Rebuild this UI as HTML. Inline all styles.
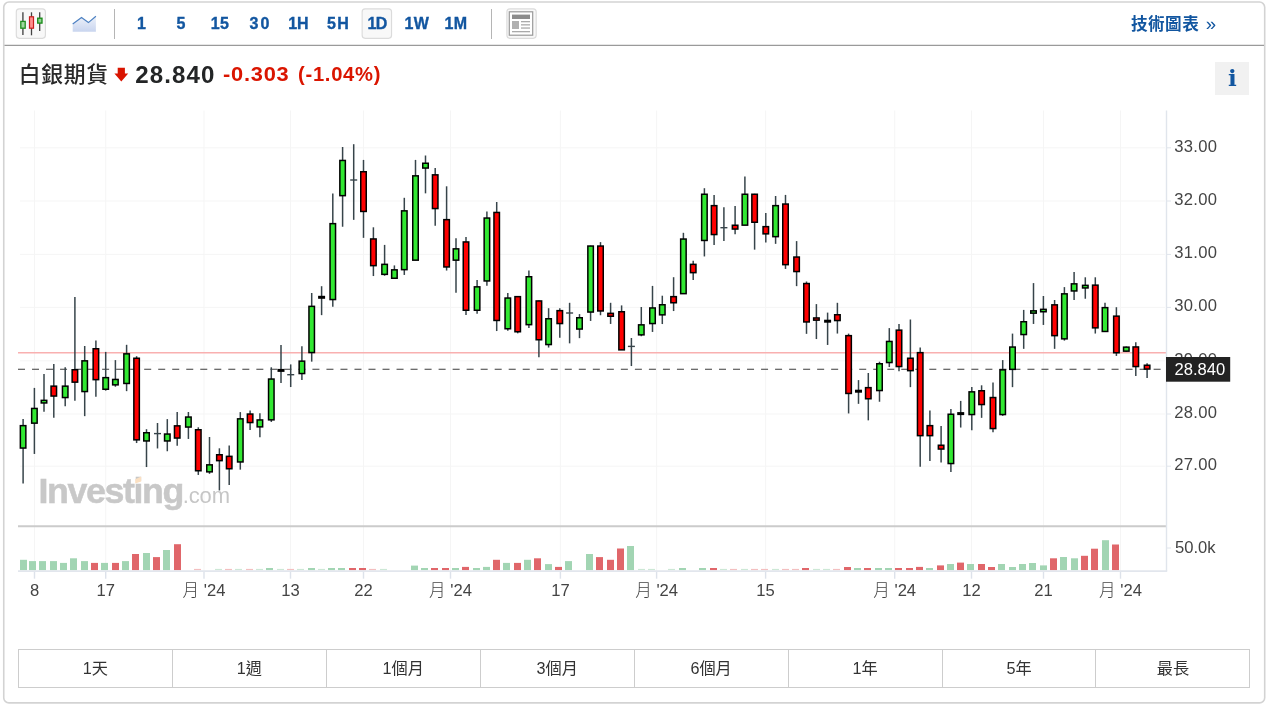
<!DOCTYPE html>
<html lang="zh-Hant">
<head>
<meta charset="utf-8">
<title>白銀期貨</title>
<style>
html,body{margin:0;padding:0;background:#fff;}
body{width:1269px;height:707px;position:relative;overflow:hidden;font-family:"Liberation Sans","Noto Sans CJK TC",sans-serif;color:#333;}
.box{position:absolute;left:2.8px;top:1.2px;width:1260.3px;height:700.1px;border:1.7px solid #d2d2d2;border-top:1.9px solid #dcdcdc;border-radius:6px;box-sizing:content-box;}
.tbline{position:absolute;left:4px;top:44.8px;width:1261px;height:1.2px;background:#9b9b9b;}
.chart{position:absolute;left:0;top:0;}
.ibtn{position:absolute;box-sizing:border-box;width:30.5px;height:30.5px;top:8.5px;border:1.2px solid #dadada;border-radius:2.8px;background:#f8f8f8;}
.sep{position:absolute;top:8.7px;width:1.2px;height:30px;background:#b5b5b5;}
.tf{position:absolute;top:14.1px;height:20px;line-height:20px;font-size:16px;font-weight:bold;color:#1256a0;text-align:center;width:40px;letter-spacing:0.3px;-webkit-text-stroke:0.35px #1256a0;}
.title{position:absolute;left:18.7px;top:60.8px;font-size:21.8px;letter-spacing:0.75px;font-weight:500;line-height:28px;color:#2a2a2a;white-space:nowrap;}
.last{position:absolute;left:135.3px;top:60.6px;font-size:24.1px;line-height:28px;font-weight:bold;color:#232526;letter-spacing:1.1px;white-space:nowrap;}
.chg{position:absolute;top:60.1px;font-size:19.5px;line-height:28px;font-weight:bold;color:#da1500;white-space:nowrap;letter-spacing:0.7px;transform:scaleX(1.03);transform-origin:0 50%;}
.tech{position:absolute;left:1131px;top:12.2px;font-size:16.6px;line-height:24px;font-weight:bold;color:#1256a0;white-space:nowrap;letter-spacing:0.45px;}
.tech span{font-weight:normal;margin-left:6.5px;font-size:18.5px;position:relative;top:-0.5px;}
.info{position:absolute;left:1215px;top:61.7px;width:34px;height:33.2px;background:#f1f1f1;text-align:center;font-family:"DejaVu Serif","Liberation Serif",serif;font-weight:bold;font-size:22.6px;line-height:33.8px;color:#1256a0;}
.info span{display:inline-block;transform:scaleX(1.02);}
.ranges{position:absolute;left:17.8px;top:648.8px;width:1232.6px;height:39px;box-sizing:border-box;border:1.2px solid #cdcdcd;display:flex;}
.ranges div{flex:1 1 0;border-right:1.2px solid #cdcdcd;text-align:center;font-size:16.2px;line-height:37.4px;color:#333;}
.ranges div:last-child{border-right:none;}
</style>
</head>
<body>
<svg class="frame" style="position:absolute;left:0;top:0" width="1269" height="707" viewBox="0 0 1269 707">
  <rect x="3.75" y="2.05" width="1260.95" height="700.85" rx="5.2" ry="5.2" fill="#fff" stroke="#d3d3d3" stroke-width="1.6"/>
  <line x1="4.5" y1="45.3" x2="1264" y2="45.3" stroke="#9a9a9a" stroke-width="1.25"/>
  <rect x="16.3" y="8.85" width="29.1" height="29.5" rx="3" ry="3" fill="#f8f8f8" stroke="#dbdbdb" stroke-width="1.15"/>
  <rect x="362.15" y="8.85" width="29.4" height="29.5" rx="3" ry="3" fill="#f8f8f8" stroke="#dbdbdb" stroke-width="1.15"/>
  <rect x="506.9" y="8.85" width="29.3" height="29.5" rx="3" ry="3" fill="#f8f8f8" stroke="#dbdbdb" stroke-width="1.15"/>
</svg>

<svg style="position:absolute;left:0;top:0" width="120" height="46" viewBox="0 0 120 46">
  <defs><linearGradient id="ag" x1="0" y1="0" x2="0" y2="1"><stop offset="0" stop-color="#eef2fa"/><stop offset="1" stop-color="#c9d5ef"/></linearGradient></defs>
  <line x1="22.9" y1="12.3" x2="22.9" y2="35" stroke="#555" stroke-width="1.5"/>
  <rect x="20.8" y="21.4" width="4.4" height="6.8" fill="#9fd89f" stroke="#1f8f1f" stroke-width="1.3"/>
  <line x1="31.5" y1="12.3" x2="31.5" y2="35.3" stroke="#444" stroke-width="1.3"/>
  <rect x="29.5" y="16.8" width="4" height="11.4" fill="#ff8f8f" stroke="#c81e1e" stroke-width="1.2"/>
  <line x1="39.7" y1="12.3" x2="39.7" y2="31" stroke="#444" stroke-width="1.3"/>
  <rect x="37.7" y="18.2" width="4.3" height="4.9" fill="#8fd28f" stroke="#168a16" stroke-width="1.3"/>
  <path d="M72.7 23.9 L81.5 17.6 L88.4 22.6 L95.9 16.2 L95.9 31.7 L72.7 31.7 Z" fill="url(#ag)"/>
  <path d="M72.7 23.9 L81.5 17.6 L88.4 22.6 L95.9 16.2" fill="none" stroke="#4c80c2" stroke-width="1.2"/>
</svg>
<div class="sep" style="left:113.6px"></div>
<div class="tf" style="left:121.7px">1</div>
<div class="tf" style="left:161px">5</div>
<div class="tf" style="left:200px">15</div>
<div class="tf" style="left:240.5px;letter-spacing:2.2px">30</div>
<div class="tf" style="left:278.3px;letter-spacing:-0.3px">1H</div>
<div class="tf" style="left:318.5px;letter-spacing:1.3px">5H</div>
<div class="tf" style="left:357px;letter-spacing:-0.7px">1D</div>
<div class="tf" style="left:396.8px">1W</div>
<div class="tf" style="left:436px">1M</div>
<div class="sep" style="left:491px"></div>
<svg style="position:absolute;left:500px;top:0" width="50" height="46" viewBox="500 0 50 46">
  <rect x="509.3" y="11.8" width="23.4" height="23.4" fill="#fff" stroke="#999" stroke-width="1.2"/>
  <rect x="512" y="14.6" width="18" height="4.4" fill="#8c8c8c"/>
  <rect x="512" y="21" width="7" height="8" fill="#b0b0b0"/>
  <rect x="521" y="21" width="9" height="1.3" fill="#aaa"/>
  <rect x="521" y="24.2" width="9" height="1.3" fill="#aaa"/>
  <rect x="521" y="27.4" width="9" height="1.3" fill="#aaa"/>
  <rect x="512" y="31" width="18" height="1.3" fill="#aaa"/>
</svg>
<div class="tech">技術圖表<span>»</span></div>

<div class="title">白銀期貨</div>
<svg style="position:absolute;left:113px;top:66px" width="17" height="17" viewBox="113 66 17 17">
  <path d="M117.7 67.7 H124.9 V73.6 H128.2 L121.3 81.6 L114.4 73.6 H117.7 Z" fill="#d91400"/>
</svg>
<div class="last">28.840</div>
<div class="chg" style="left:223.4px;transform:scaleX(1.118)">-0.303</div>
<div class="chg" style="left:297.8px;transform:scaleX(1.035)">(-1.04%)</div>
<div class="info"><span>i</span></div>

<svg class="chart" width="1269" height="707" viewBox="0 0 1269 707">
<line x1="20" y1="147.8" x2="1165" y2="147.8" stroke="#f5f5f5" stroke-width="1"/>
<line x1="1166.5" y1="147.8" x2="1171" y2="147.8" stroke="#e0e5ec" stroke-width="1"/>
<line x1="20" y1="201" x2="1165" y2="201" stroke="#f5f5f5" stroke-width="1"/>
<line x1="1166.5" y1="201" x2="1171" y2="201" stroke="#e0e5ec" stroke-width="1"/>
<line x1="20" y1="254.4" x2="1165" y2="254.4" stroke="#f5f5f5" stroke-width="1"/>
<line x1="1166.5" y1="254.4" x2="1171" y2="254.4" stroke="#e0e5ec" stroke-width="1"/>
<line x1="20" y1="307.4" x2="1165" y2="307.4" stroke="#f5f5f5" stroke-width="1"/>
<line x1="1166.5" y1="307.4" x2="1171" y2="307.4" stroke="#e0e5ec" stroke-width="1"/>
<line x1="20" y1="360.8" x2="1165" y2="360.8" stroke="#f5f5f5" stroke-width="1"/>
<line x1="1166.5" y1="360.8" x2="1171" y2="360.8" stroke="#e0e5ec" stroke-width="1"/>
<line x1="20" y1="414" x2="1165" y2="414" stroke="#f5f5f5" stroke-width="1"/>
<line x1="1166.5" y1="414" x2="1171" y2="414" stroke="#e0e5ec" stroke-width="1"/>
<line x1="20" y1="466.2" x2="1165" y2="466.2" stroke="#f5f5f5" stroke-width="1"/>
<line x1="1166.5" y1="466.2" x2="1171" y2="466.2" stroke="#e0e5ec" stroke-width="1"/>
<line x1="34.5" y1="110.5" x2="34.5" y2="571.1" stroke="#f5f5f5" stroke-width="1"/>
<line x1="34.5" y1="571.1" x2="34.5" y2="578.7" stroke="#dde2ea" stroke-width="1.4"/>
<line x1="105.7" y1="110.5" x2="105.7" y2="571.1" stroke="#f5f5f5" stroke-width="1"/>
<line x1="105.7" y1="571.1" x2="105.7" y2="578.7" stroke="#dde2ea" stroke-width="1.4"/>
<line x1="204" y1="110.5" x2="204" y2="571.1" stroke="#f5f5f5" stroke-width="1"/>
<line x1="204" y1="571.1" x2="204" y2="578.7" stroke="#dde2ea" stroke-width="1.4"/>
<line x1="290.5" y1="110.5" x2="290.5" y2="571.1" stroke="#f5f5f5" stroke-width="1"/>
<line x1="290.5" y1="571.1" x2="290.5" y2="578.7" stroke="#dde2ea" stroke-width="1.4"/>
<line x1="363.5" y1="110.5" x2="363.5" y2="571.1" stroke="#f5f5f5" stroke-width="1"/>
<line x1="363.5" y1="571.1" x2="363.5" y2="578.7" stroke="#dde2ea" stroke-width="1.4"/>
<line x1="450.5" y1="110.5" x2="450.5" y2="571.1" stroke="#f5f5f5" stroke-width="1"/>
<line x1="450.5" y1="571.1" x2="450.5" y2="578.7" stroke="#dde2ea" stroke-width="1.4"/>
<line x1="560.4" y1="110.5" x2="560.4" y2="571.1" stroke="#f5f5f5" stroke-width="1"/>
<line x1="560.4" y1="571.1" x2="560.4" y2="578.7" stroke="#dde2ea" stroke-width="1.4"/>
<line x1="656.6" y1="110.5" x2="656.6" y2="571.1" stroke="#f5f5f5" stroke-width="1"/>
<line x1="656.6" y1="571.1" x2="656.6" y2="578.7" stroke="#dde2ea" stroke-width="1.4"/>
<line x1="765.6" y1="110.5" x2="765.6" y2="571.1" stroke="#f5f5f5" stroke-width="1"/>
<line x1="765.6" y1="571.1" x2="765.6" y2="578.7" stroke="#dde2ea" stroke-width="1.4"/>
<line x1="894.7" y1="110.5" x2="894.7" y2="571.1" stroke="#f5f5f5" stroke-width="1"/>
<line x1="894.7" y1="571.1" x2="894.7" y2="578.7" stroke="#dde2ea" stroke-width="1.4"/>
<line x1="971.5" y1="110.5" x2="971.5" y2="571.1" stroke="#f5f5f5" stroke-width="1"/>
<line x1="971.5" y1="571.1" x2="971.5" y2="578.7" stroke="#dde2ea" stroke-width="1.4"/>
<line x1="1043.5" y1="110.5" x2="1043.5" y2="571.1" stroke="#f5f5f5" stroke-width="1"/>
<line x1="1043.5" y1="571.1" x2="1043.5" y2="578.7" stroke="#dde2ea" stroke-width="1.4"/>
<line x1="1120.5" y1="110.5" x2="1120.5" y2="571.1" stroke="#f5f5f5" stroke-width="1"/>
<line x1="1120.5" y1="571.1" x2="1120.5" y2="578.7" stroke="#dde2ea" stroke-width="1.4"/>
<g font-family="'Liberation Sans', sans-serif">
<text x="38.4" y="503.1" font-size="35.8" font-weight="bold" fill="#c8c8c8" stroke="#c8c8c8" stroke-width="0.5" letter-spacing="-1.4">Investing</text>
<text x="182.8" y="503.1" font-size="22" fill="#c6c6c6" letter-spacing="-0.15">.com</text>
</g>
<path d="M135.2 479.2 L141.2 476.6 L141.2 481.4 L135.2 483.4 Z" fill="#fbe0c2"/>
<line x1="18" y1="352.75" x2="1166" y2="352.75" stroke="#f9b0b0" stroke-width="1.6"/>
<rect x="20" y="559.8" width="7" height="10.4" fill="#a2d5b3"/>
<rect x="29" y="561.1" width="7" height="9.1" fill="#a2d5b3"/>
<rect x="39" y="561.1" width="7" height="9.1" fill="#a2d5b3"/>
<rect x="50" y="561.1" width="7" height="9.1" fill="#a2d5b3"/>
<rect x="60" y="562.9" width="7" height="7.3" fill="#a2d5b3"/>
<rect x="70" y="558.3" width="7" height="11.9" fill="#a2d5b3"/>
<rect x="81" y="561.1" width="7" height="9.1" fill="#a2d5b3"/>
<rect x="91" y="562.9" width="7" height="7.3" fill="#e0666a"/>
<rect x="101" y="562.9" width="7" height="7.3" fill="#a2d5b3"/>
<rect x="112" y="562.9" width="7" height="7.3" fill="#e0666a"/>
<rect x="122" y="561.1" width="7" height="9.1" fill="#a2d5b3"/>
<rect x="132" y="554.0" width="7" height="16.2" fill="#e0666a"/>
<rect x="143" y="553.0" width="7" height="17.2" fill="#a2d5b3"/>
<rect x="153" y="557.1" width="7" height="13.1" fill="#e0666a"/>
<rect x="163" y="550.0" width="7" height="20.2" fill="#a2d5b3"/>
<rect x="174" y="544.2" width="7" height="26.0" fill="#e0666a"/>
<rect x="194" y="568.9" width="7" height="1.3" fill="#f3bfc0"/>
<rect x="215" y="568.9" width="7" height="1.3" fill="#cde8d6"/>
<rect x="225" y="568.9" width="7" height="1.3" fill="#f3bfc0"/>
<rect x="235" y="568.9" width="7" height="1.3" fill="#cde8d6"/>
<rect x="246" y="568.9" width="7" height="1.3" fill="#f3bfc0"/>
<rect x="256" y="568.9" width="7" height="1.3" fill="#cde8d6"/>
<rect x="266" y="568.0" width="7" height="2.2" fill="#a2d5b3"/>
<rect x="277" y="568.9" width="7" height="1.3" fill="#cde8d6"/>
<rect x="287" y="568.9" width="7" height="1.3" fill="#f3bfc0"/>
<rect x="297" y="568.9" width="7" height="1.3" fill="#cde8d6"/>
<rect x="308" y="568.0" width="7" height="2.2" fill="#a2d5b3"/>
<rect x="318" y="568.9" width="7" height="1.3" fill="#cde8d6"/>
<rect x="328" y="568.0" width="7" height="2.2" fill="#a2d5b3"/>
<rect x="338" y="568.0" width="7" height="2.2" fill="#a2d5b3"/>
<rect x="349" y="568.0" width="7" height="2.2" fill="#e0666a"/>
<rect x="359" y="568.0" width="7" height="2.2" fill="#e0666a"/>
<rect x="369" y="568.9" width="7" height="1.3" fill="#f3bfc0"/>
<rect x="380" y="568.9" width="7" height="1.3" fill="#cde8d6"/>
<rect x="411" y="565.6" width="7" height="4.6" fill="#a2d5b3"/>
<rect x="421" y="568.0" width="7" height="2.2" fill="#a2d5b3"/>
<rect x="431" y="568.0" width="7" height="2.2" fill="#e0666a"/>
<rect x="442" y="568.0" width="7" height="2.2" fill="#e0666a"/>
<rect x="452" y="568.0" width="7" height="2.2" fill="#a2d5b3"/>
<rect x="462" y="566.9" width="7" height="3.3" fill="#e0666a"/>
<rect x="473" y="568.0" width="7" height="2.2" fill="#a2d5b3"/>
<rect x="483" y="566.9" width="7" height="3.3" fill="#a2d5b3"/>
<rect x="493" y="559.8" width="7" height="10.4" fill="#e0666a"/>
<rect x="503" y="562.9" width="7" height="7.3" fill="#a2d5b3"/>
<rect x="514" y="562.9" width="7" height="7.3" fill="#e0666a"/>
<rect x="524" y="559.8" width="7" height="10.4" fill="#a2d5b3"/>
<rect x="534" y="558.3" width="7" height="11.9" fill="#e0666a"/>
<rect x="545" y="564.1" width="7" height="6.1" fill="#a2d5b3"/>
<rect x="555" y="566.9" width="7" height="3.3" fill="#e0666a"/>
<rect x="565" y="561.1" width="7" height="9.1" fill="#a2d5b3"/>
<rect x="586" y="554.0" width="7" height="16.2" fill="#a2d5b3"/>
<rect x="596" y="557.1" width="7" height="13.1" fill="#e0666a"/>
<rect x="607" y="559.8" width="7" height="10.4" fill="#e0666a"/>
<rect x="617" y="548.5" width="7" height="21.7" fill="#e0666a"/>
<rect x="627" y="546.0" width="7" height="24.2" fill="#a2d5b3"/>
<rect x="638" y="568.9" width="7" height="1.3" fill="#cde8d6"/>
<rect x="648" y="568.9" width="7" height="1.3" fill="#cde8d6"/>
<rect x="668" y="568.9" width="7" height="1.3" fill="#cde8d6"/>
<rect x="679" y="568.0" width="7" height="2.2" fill="#a2d5b3"/>
<rect x="699" y="568.0" width="7" height="2.2" fill="#a2d5b3"/>
<rect x="710" y="568.0" width="7" height="2.2" fill="#e0666a"/>
<rect x="720" y="568.9" width="7" height="1.3" fill="#cde8d6"/>
<rect x="730" y="568.9" width="7" height="1.3" fill="#f3bfc0"/>
<rect x="741" y="568.9" width="7" height="1.3" fill="#cde8d6"/>
<rect x="751" y="568.9" width="7" height="1.3" fill="#f3bfc0"/>
<rect x="761" y="568.9" width="7" height="1.3" fill="#f3bfc0"/>
<rect x="772" y="568.9" width="7" height="1.3" fill="#cde8d6"/>
<rect x="782" y="568.9" width="7" height="1.3" fill="#f3bfc0"/>
<rect x="792" y="568.9" width="7" height="1.3" fill="#f3bfc0"/>
<rect x="802" y="568.0" width="7" height="2.2" fill="#e0666a"/>
<rect x="813" y="568.9" width="7" height="1.3" fill="#cde8d6"/>
<rect x="823" y="568.9" width="7" height="1.3" fill="#cde8d6"/>
<rect x="833" y="568.9" width="7" height="1.3" fill="#f3bfc0"/>
<rect x="844" y="567.0" width="7" height="3.2" fill="#e0666a"/>
<rect x="854" y="568.0" width="7" height="2.2" fill="#a2d5b3"/>
<rect x="864" y="568.0" width="7" height="2.2" fill="#e0666a"/>
<rect x="875" y="568.0" width="7" height="2.2" fill="#a2d5b3"/>
<rect x="885" y="568.0" width="7" height="2.2" fill="#a2d5b3"/>
<rect x="895" y="568.0" width="7" height="2.2" fill="#e0666a"/>
<rect x="906" y="568.0" width="7" height="2.2" fill="#e0666a"/>
<rect x="916" y="566.9" width="7" height="3.3" fill="#e0666a"/>
<rect x="926" y="568.0" width="7" height="2.2" fill="#a2d5b3"/>
<rect x="937" y="565.4" width="7" height="4.8" fill="#e0666a"/>
<rect x="947" y="564.0" width="7" height="6.2" fill="#a2d5b3"/>
<rect x="957" y="562.6" width="7" height="7.6" fill="#e0666a"/>
<rect x="967" y="564.0" width="7" height="6.2" fill="#a2d5b3"/>
<rect x="978" y="564.0" width="7" height="6.2" fill="#e0666a"/>
<rect x="988" y="567.0" width="7" height="3.2" fill="#e0666a"/>
<rect x="998" y="564.0" width="7" height="6.2" fill="#a2d5b3"/>
<rect x="1009" y="567.0" width="7" height="3.2" fill="#a2d5b3"/>
<rect x="1019" y="564.0" width="7" height="6.2" fill="#a2d5b3"/>
<rect x="1029" y="563.0" width="7" height="7.2" fill="#a2d5b3"/>
<rect x="1040" y="565.4" width="7" height="4.8" fill="#a2d5b3"/>
<rect x="1050" y="558.3" width="7" height="11.9" fill="#e0666a"/>
<rect x="1060" y="557.0" width="7" height="13.2" fill="#a2d5b3"/>
<rect x="1071" y="558.3" width="7" height="11.9" fill="#a2d5b3"/>
<rect x="1081" y="555.8" width="7" height="14.4" fill="#e0666a"/>
<rect x="1091" y="548.7" width="7" height="21.5" fill="#e0666a"/>
<rect x="1102" y="540.2" width="7" height="30.0" fill="#a2d5b3"/>
<rect x="1112" y="544.5" width="7" height="25.7" fill="#e0666a"/>
<line x1="18" y1="369.2" x2="1162" y2="369.2" stroke="#3c3c3c" stroke-width="1.15" stroke-dasharray="7.01 7.01"/>
<line x1="23.1" y1="419.1" x2="23.1" y2="483.55" stroke="#37444a" stroke-width="1.5"/>
<rect x="20.35" y="425.65" width="5.5" height="22.40" fill="#32e832" stroke="#000" stroke-width="1.5"/>
<line x1="34.4" y1="387.9" x2="34.4" y2="453.95000000000005" stroke="#37444a" stroke-width="1.5"/>
<rect x="31.65" y="408.45" width="5.5" height="14.70" fill="#32e832" stroke="#000" stroke-width="1.5"/>
<line x1="44.0" y1="374.0" x2="44.0" y2="411.85" stroke="#37444a" stroke-width="1.5"/>
<rect x="41.25" y="400.35" width="5.5" height="2.60" fill="#32e832" stroke="#000" stroke-width="1.5"/>
<line x1="53.8" y1="364.1" x2="53.8" y2="417.75" stroke="#37444a" stroke-width="1.5"/>
<rect x="51.05" y="386.15" width="5.5" height="9.90" fill="#ff0000" stroke="#000" stroke-width="1.5"/>
<line x1="65.2" y1="367.2" x2="65.2" y2="406.35" stroke="#37444a" stroke-width="1.5"/>
<rect x="62.45" y="386.15" width="5.5" height="11.40" fill="#32e832" stroke="#000" stroke-width="1.5"/>
<line x1="74.9" y1="297.1" x2="74.9" y2="400.85" stroke="#37444a" stroke-width="1.5"/>
<rect x="72.15" y="369.75" width="5.5" height="12.40" fill="#ff0000" stroke="#000" stroke-width="1.5"/>
<line x1="84.7" y1="346.0" x2="84.7" y2="416.15000000000003" stroke="#37444a" stroke-width="1.5"/>
<rect x="81.95" y="360.85" width="5.5" height="30.70" fill="#32e832" stroke="#000" stroke-width="1.5"/>
<line x1="95.9" y1="340.4" x2="95.9" y2="396.85" stroke="#37444a" stroke-width="1.5"/>
<rect x="93.15" y="348.75" width="5.5" height="30.90" fill="#ff0000" stroke="#000" stroke-width="1.5"/>
<line x1="105.7" y1="351.9" x2="105.7" y2="390.65000000000003" stroke="#37444a" stroke-width="1.5"/>
<rect x="102.95" y="377.65" width="5.5" height="11.60" fill="#32e832" stroke="#000" stroke-width="1.5"/>
<line x1="115.4" y1="360.1" x2="115.4" y2="386.75" stroke="#37444a" stroke-width="1.5"/>
<rect x="112.65" y="379.45" width="5.5" height="5.40" fill="#32e832" stroke="#000" stroke-width="1.5"/>
<line x1="126.6" y1="344.8" x2="126.6" y2="391.15000000000003" stroke="#37444a" stroke-width="1.5"/>
<rect x="123.85" y="353.85" width="5.5" height="29.60" fill="#32e832" stroke="#000" stroke-width="1.5"/>
<line x1="136.6" y1="356.2" x2="136.6" y2="443.05" stroke="#37444a" stroke-width="1.5"/>
<rect x="133.85" y="358.25" width="5.5" height="81.60" fill="#ff0000" stroke="#000" stroke-width="1.5"/>
<line x1="146.5" y1="429.2" x2="146.5" y2="467.05" stroke="#37444a" stroke-width="1.5"/>
<rect x="143.75" y="432.75" width="5.5" height="8.20" fill="#32e832" stroke="#000" stroke-width="1.5"/>
<line x1="157.5" y1="423.0" x2="157.5" y2="448.45000000000005" stroke="#37444a" stroke-width="1.5"/>
<line x1="154.0" y1="433.6" x2="161.0" y2="433.6" stroke="#37444a" stroke-width="1.4"/>
<line x1="167.3" y1="419.1" x2="167.3" y2="451.25" stroke="#37444a" stroke-width="1.5"/>
<rect x="164.55" y="434.05" width="5.5" height="6.90" fill="#32e832" stroke="#000" stroke-width="1.5"/>
<line x1="177.2" y1="412.0" x2="177.2" y2="445.75" stroke="#37444a" stroke-width="1.5"/>
<rect x="174.45" y="425.85" width="5.5" height="12.20" fill="#ff0000" stroke="#000" stroke-width="1.5"/>
<line x1="188.4" y1="412.0" x2="188.4" y2="438.95000000000005" stroke="#37444a" stroke-width="1.5"/>
<rect x="185.65" y="417.05" width="5.5" height="10.00" fill="#32e832" stroke="#000" stroke-width="1.5"/>
<line x1="198.3" y1="427.3" x2="198.3" y2="474.95000000000005" stroke="#37444a" stroke-width="1.5"/>
<rect x="195.55" y="429.75" width="5.5" height="41.00" fill="#ff0000" stroke="#000" stroke-width="1.5"/>
<line x1="209.5" y1="437.0" x2="209.5" y2="473.85" stroke="#37444a" stroke-width="1.5"/>
<rect x="206.75" y="464.85" width="5.5" height="7.00" fill="#32e832" stroke="#000" stroke-width="1.5"/>
<line x1="219.4" y1="448.3" x2="219.4" y2="490.45000000000005" stroke="#37444a" stroke-width="1.5"/>
<rect x="216.65" y="454.75" width="5.5" height="5.90" fill="#ff0000" stroke="#000" stroke-width="1.5"/>
<line x1="229.2" y1="445.6" x2="229.2" y2="484.95000000000005" stroke="#37444a" stroke-width="1.5"/>
<rect x="226.45" y="456.35" width="5.5" height="12.40" fill="#ff0000" stroke="#000" stroke-width="1.5"/>
<line x1="240.3" y1="412.1" x2="240.3" y2="469.65000000000003" stroke="#37444a" stroke-width="1.5"/>
<rect x="237.55" y="418.85" width="5.5" height="43.10" fill="#32e832" stroke="#000" stroke-width="1.5"/>
<line x1="250.1" y1="410.5" x2="250.1" y2="430.05" stroke="#37444a" stroke-width="1.5"/>
<rect x="247.35" y="414.05" width="5.5" height="8.50" fill="#ff0000" stroke="#000" stroke-width="1.5"/>
<line x1="259.9" y1="413.2" x2="259.9" y2="437.15000000000003" stroke="#37444a" stroke-width="1.5"/>
<rect x="257.15" y="419.95" width="5.5" height="6.90" fill="#32e832" stroke="#000" stroke-width="1.5"/>
<line x1="271.3" y1="367.3" x2="271.3" y2="421.95000000000005" stroke="#37444a" stroke-width="1.5"/>
<rect x="268.55" y="379.05" width="5.5" height="40.80" fill="#32e832" stroke="#000" stroke-width="1.5"/>
<line x1="281.0" y1="344.9" x2="281.0" y2="382.95000000000005" stroke="#37444a" stroke-width="1.5"/>
<line x1="277.5" y1="370.40000000000003" x2="284.5" y2="370.40000000000003" stroke="#000" stroke-width="3"/>
<line x1="290.7" y1="364.4" x2="290.7" y2="387.05" stroke="#37444a" stroke-width="1.5"/>
<line x1="287.2" y1="374.7" x2="294.2" y2="374.7" stroke="#37444a" stroke-width="1.4"/>
<line x1="301.9" y1="346.3" x2="301.9" y2="379.95000000000005" stroke="#37444a" stroke-width="1.5"/>
<rect x="299.15" y="361.15" width="5.5" height="12.40" fill="#32e832" stroke="#000" stroke-width="1.5"/>
<line x1="311.7" y1="293.0" x2="311.7" y2="361.65000000000003" stroke="#37444a" stroke-width="1.5"/>
<rect x="308.95" y="306.35" width="5.5" height="46.20" fill="#32e832" stroke="#000" stroke-width="1.5"/>
<line x1="321.6" y1="286.2" x2="321.6" y2="315.15000000000003" stroke="#37444a" stroke-width="1.5"/>
<line x1="318.1" y1="297.3" x2="325.1" y2="297.3" stroke="#000" stroke-width="3"/>
<line x1="332.8" y1="193.4" x2="332.8" y2="306.75" stroke="#37444a" stroke-width="1.5"/>
<rect x="330.05" y="223.65" width="5.5" height="75.90" fill="#32e832" stroke="#000" stroke-width="1.5"/>
<line x1="342.6" y1="147.0" x2="342.6" y2="226.75" stroke="#37444a" stroke-width="1.5"/>
<rect x="339.85" y="160.45" width="5.5" height="35.20" fill="#32e832" stroke="#000" stroke-width="1.5"/>
<line x1="353.7" y1="144.2" x2="353.7" y2="219.85" stroke="#37444a" stroke-width="1.5"/>
<line x1="350.2" y1="180.0" x2="357.2" y2="180.0" stroke="#37444a" stroke-width="1.4"/>
<line x1="363.5" y1="159.9" x2="363.5" y2="237.85" stroke="#37444a" stroke-width="1.5"/>
<rect x="360.75" y="171.75" width="5.5" height="39.70" fill="#ff0000" stroke="#000" stroke-width="1.5"/>
<line x1="373.4" y1="227.3" x2="373.4" y2="276.05" stroke="#37444a" stroke-width="1.5"/>
<rect x="370.65" y="238.95" width="5.5" height="26.70" fill="#ff0000" stroke="#000" stroke-width="1.5"/>
<line x1="384.6" y1="244.9" x2="384.6" y2="275.75" stroke="#37444a" stroke-width="1.5"/>
<rect x="381.85" y="264.35" width="5.5" height="10.00" fill="#32e832" stroke="#000" stroke-width="1.5"/>
<line x1="394.4" y1="265.4" x2="394.4" y2="278.35" stroke="#37444a" stroke-width="1.5"/>
<rect x="391.65" y="269.85" width="5.5" height="8.40" fill="#32e832" stroke="#000" stroke-width="1.5"/>
<line x1="404.3" y1="197.8" x2="404.3" y2="274.95000000000005" stroke="#37444a" stroke-width="1.5"/>
<rect x="401.55" y="210.85" width="5.5" height="58.80" fill="#32e832" stroke="#000" stroke-width="1.5"/>
<line x1="415.5" y1="159.9" x2="415.5" y2="260.25" stroke="#37444a" stroke-width="1.5"/>
<rect x="412.75" y="175.85" width="5.5" height="84.30" fill="#32e832" stroke="#000" stroke-width="1.5"/>
<line x1="425.5" y1="155.5" x2="425.5" y2="193.35" stroke="#37444a" stroke-width="1.5"/>
<rect x="422.75" y="163.25" width="5.5" height="4.80" fill="#32e832" stroke="#000" stroke-width="1.5"/>
<line x1="435.2" y1="168.1" x2="435.2" y2="225.65" stroke="#37444a" stroke-width="1.5"/>
<rect x="432.45" y="174.85" width="5.5" height="33.70" fill="#ff0000" stroke="#000" stroke-width="1.5"/>
<line x1="446.6" y1="186.3" x2="446.6" y2="270.55" stroke="#37444a" stroke-width="1.5"/>
<rect x="443.85" y="219.65" width="5.5" height="47.30" fill="#ff0000" stroke="#000" stroke-width="1.5"/>
<line x1="456.0" y1="238.2" x2="456.0" y2="292.85" stroke="#37444a" stroke-width="1.5"/>
<rect x="453.25" y="248.85" width="5.5" height="11.30" fill="#32e832" stroke="#000" stroke-width="1.5"/>
<line x1="466.0" y1="237.1" x2="466.0" y2="314.95000000000005" stroke="#37444a" stroke-width="1.5"/>
<rect x="463.25" y="241.95" width="5.5" height="68.30" fill="#ff0000" stroke="#000" stroke-width="1.5"/>
<line x1="477.1" y1="280.1" x2="477.1" y2="313.85" stroke="#37444a" stroke-width="1.5"/>
<rect x="474.35" y="286.85" width="5.5" height="23.40" fill="#32e832" stroke="#000" stroke-width="1.5"/>
<line x1="486.9" y1="211.5" x2="486.9" y2="285.75" stroke="#37444a" stroke-width="1.5"/>
<rect x="484.15" y="218.05" width="5.5" height="62.90" fill="#32e832" stroke="#000" stroke-width="1.5"/>
<line x1="496.7" y1="202.0" x2="496.7" y2="331.05" stroke="#37444a" stroke-width="1.5"/>
<rect x="493.95" y="212.45" width="5.5" height="108.00" fill="#ff0000" stroke="#000" stroke-width="1.5"/>
<line x1="507.8" y1="293.0" x2="507.8" y2="330.75" stroke="#37444a" stroke-width="1.5"/>
<rect x="505.05" y="298.05" width="5.5" height="30.70" fill="#32e832" stroke="#000" stroke-width="1.5"/>
<line x1="517.7" y1="296.2" x2="517.7" y2="333.35" stroke="#37444a" stroke-width="1.5"/>
<rect x="514.95" y="296.65" width="5.5" height="35.10" fill="#ff0000" stroke="#000" stroke-width="1.5"/>
<line x1="528.9" y1="270.5" x2="528.9" y2="328.05" stroke="#37444a" stroke-width="1.5"/>
<rect x="526.15" y="276.75" width="5.5" height="47.90" fill="#32e832" stroke="#000" stroke-width="1.5"/>
<line x1="538.9" y1="300.5" x2="538.9" y2="357.35" stroke="#37444a" stroke-width="1.5"/>
<rect x="536.15" y="300.95" width="5.5" height="38.80" fill="#ff0000" stroke="#000" stroke-width="1.5"/>
<line x1="548.6" y1="308.2" x2="548.6" y2="347.55" stroke="#37444a" stroke-width="1.5"/>
<rect x="545.85" y="318.75" width="5.5" height="25.80" fill="#32e832" stroke="#000" stroke-width="1.5"/>
<line x1="559.8" y1="308.3" x2="559.8" y2="337.75" stroke="#37444a" stroke-width="1.5"/>
<rect x="557.05" y="310.65" width="5.5" height="12.90" fill="#ff0000" stroke="#000" stroke-width="1.5"/>
<line x1="569.6" y1="302.8" x2="569.6" y2="343.35" stroke="#37444a" stroke-width="1.5"/>
<line x1="566.1" y1="313.0" x2="573.1" y2="313.0" stroke="#37444a" stroke-width="1.4"/>
<line x1="579.5" y1="314.1" x2="579.5" y2="338.15000000000003" stroke="#37444a" stroke-width="1.5"/>
<rect x="576.75" y="317.75" width="5.5" height="11.30" fill="#32e832" stroke="#000" stroke-width="1.5"/>
<line x1="590.6" y1="245.6" x2="590.6" y2="320.95000000000005" stroke="#37444a" stroke-width="1.5"/>
<rect x="587.85" y="246.05" width="5.5" height="66.00" fill="#32e832" stroke="#000" stroke-width="1.5"/>
<line x1="600.5" y1="242.1" x2="600.5" y2="315.25" stroke="#37444a" stroke-width="1.5"/>
<rect x="597.75" y="246.05" width="5.5" height="64.90" fill="#ff0000" stroke="#000" stroke-width="1.5"/>
<line x1="610.6" y1="302.8" x2="610.6" y2="323.95000000000005" stroke="#37444a" stroke-width="1.5"/>
<rect x="607.85" y="313.35" width="5.5" height="2.90" fill="#ff0000" stroke="#000" stroke-width="1.5"/>
<line x1="621.6" y1="305.4" x2="621.6" y2="349.95000000000005" stroke="#37444a" stroke-width="1.5"/>
<rect x="618.85" y="311.75" width="5.5" height="38.10" fill="#ff0000" stroke="#000" stroke-width="1.5"/>
<line x1="631.4" y1="338.0" x2="631.4" y2="366.05" stroke="#37444a" stroke-width="1.5"/>
<line x1="627.9" y1="346.4" x2="634.9" y2="346.4" stroke="#37444a" stroke-width="1.4"/>
<line x1="641.3" y1="307.0" x2="641.3" y2="336.25" stroke="#37444a" stroke-width="1.5"/>
<rect x="638.55" y="324.85" width="5.5" height="10.00" fill="#32e832" stroke="#000" stroke-width="1.5"/>
<line x1="652.5" y1="285.9" x2="652.5" y2="331.95000000000005" stroke="#37444a" stroke-width="1.5"/>
<rect x="649.75" y="307.95" width="5.5" height="15.60" fill="#32e832" stroke="#000" stroke-width="1.5"/>
<line x1="662.3" y1="295.7" x2="662.3" y2="324.05" stroke="#37444a" stroke-width="1.5"/>
<rect x="659.55" y="304.75" width="5.5" height="10.10" fill="#32e832" stroke="#000" stroke-width="1.5"/>
<line x1="673.6" y1="277.2" x2="673.6" y2="311.05" stroke="#37444a" stroke-width="1.5"/>
<rect x="670.85" y="296.65" width="5.5" height="6.10" fill="#ff0000" stroke="#000" stroke-width="1.5"/>
<line x1="683.4" y1="232.8" x2="683.4" y2="293.75" stroke="#37444a" stroke-width="1.5"/>
<rect x="680.65" y="239.05" width="5.5" height="54.60" fill="#32e832" stroke="#000" stroke-width="1.5"/>
<line x1="693.2" y1="260.7" x2="693.2" y2="279.95000000000005" stroke="#37444a" stroke-width="1.5"/>
<rect x="690.45" y="264.35" width="5.5" height="8.30" fill="#ff0000" stroke="#000" stroke-width="1.5"/>
<line x1="704.4" y1="188.2" x2="704.4" y2="256.45000000000005" stroke="#37444a" stroke-width="1.5"/>
<rect x="701.65" y="194.25" width="5.5" height="46.20" fill="#32e832" stroke="#000" stroke-width="1.5"/>
<line x1="714.1" y1="194.9" x2="714.1" y2="244.95" stroke="#37444a" stroke-width="1.5"/>
<rect x="711.35" y="205.65" width="5.5" height="28.90" fill="#ff0000" stroke="#000" stroke-width="1.5"/>
<line x1="723.9" y1="207.2" x2="723.9" y2="240.95" stroke="#37444a" stroke-width="1.5"/>
<line x1="720.4" y1="227.7" x2="727.4" y2="227.7" stroke="#37444a" stroke-width="1.4"/>
<line x1="735.1" y1="206.0" x2="735.1" y2="234.25" stroke="#37444a" stroke-width="1.5"/>
<rect x="732.35" y="225.25" width="5.5" height="3.80" fill="#ff0000" stroke="#000" stroke-width="1.5"/>
<line x1="744.9" y1="176.5" x2="744.9" y2="225.25" stroke="#37444a" stroke-width="1.5"/>
<rect x="742.15" y="194.25" width="5.5" height="30.90" fill="#32e832" stroke="#000" stroke-width="1.5"/>
<line x1="754.6" y1="193.8" x2="754.6" y2="249.65" stroke="#37444a" stroke-width="1.5"/>
<rect x="751.85" y="194.25" width="5.5" height="28.00" fill="#ff0000" stroke="#000" stroke-width="1.5"/>
<line x1="765.8" y1="213.1" x2="765.8" y2="242.54999999999998" stroke="#37444a" stroke-width="1.5"/>
<rect x="763.05" y="226.65" width="5.5" height="7.20" fill="#ff0000" stroke="#000" stroke-width="1.5"/>
<line x1="775.6" y1="196.0" x2="775.6" y2="243.85" stroke="#37444a" stroke-width="1.5"/>
<rect x="772.85" y="205.65" width="5.5" height="31.00" fill="#32e832" stroke="#000" stroke-width="1.5"/>
<line x1="785.5" y1="194.9" x2="785.5" y2="268.95000000000005" stroke="#37444a" stroke-width="1.5"/>
<rect x="782.75" y="204.05" width="5.5" height="60.60" fill="#ff0000" stroke="#000" stroke-width="1.5"/>
<line x1="796.6" y1="241.1" x2="796.6" y2="286.15000000000003" stroke="#37444a" stroke-width="1.5"/>
<rect x="793.85" y="257.05" width="5.5" height="14.50" fill="#ff0000" stroke="#000" stroke-width="1.5"/>
<line x1="806.5" y1="281.5" x2="806.5" y2="333.85" stroke="#37444a" stroke-width="1.5"/>
<rect x="803.75" y="283.55" width="5.5" height="38.40" fill="#ff0000" stroke="#000" stroke-width="1.5"/>
<line x1="816.4" y1="304.1" x2="816.4" y2="339.05" stroke="#37444a" stroke-width="1.5"/>
<rect x="813.65" y="317.95" width="5.5" height="2.20" fill="#ff0000" stroke="#000" stroke-width="1.5"/>
<line x1="827.6" y1="312.6" x2="827.6" y2="344.95000000000005" stroke="#37444a" stroke-width="1.5"/>
<line x1="824.1" y1="321.2" x2="831.1" y2="321.2" stroke="#000" stroke-width="3"/>
<line x1="837.4" y1="302.8" x2="837.4" y2="333.55" stroke="#37444a" stroke-width="1.5"/>
<rect x="834.65" y="314.75" width="5.5" height="5.80" fill="#ff0000" stroke="#000" stroke-width="1.5"/>
<line x1="848.6" y1="333.6" x2="848.6" y2="413.45000000000005" stroke="#37444a" stroke-width="1.5"/>
<rect x="845.85" y="335.65" width="5.5" height="57.80" fill="#ff0000" stroke="#000" stroke-width="1.5"/>
<line x1="858.5" y1="380.1" x2="858.5" y2="403.85" stroke="#37444a" stroke-width="1.5"/>
<line x1="855.0" y1="391.2" x2="862.0" y2="391.2" stroke="#000" stroke-width="3"/>
<line x1="868.3" y1="373.0" x2="868.3" y2="420.35" stroke="#37444a" stroke-width="1.5"/>
<rect x="865.55" y="387.65" width="5.5" height="11.10" fill="#ff0000" stroke="#000" stroke-width="1.5"/>
<line x1="879.5" y1="361.7" x2="879.5" y2="401.75" stroke="#37444a" stroke-width="1.5"/>
<rect x="876.75" y="363.75" width="5.5" height="26.80" fill="#32e832" stroke="#000" stroke-width="1.5"/>
<line x1="889.3" y1="328.1" x2="889.3" y2="367.05" stroke="#37444a" stroke-width="1.5"/>
<rect x="886.55" y="341.45" width="5.5" height="21.10" fill="#32e832" stroke="#000" stroke-width="1.5"/>
<line x1="899.0" y1="323.9" x2="899.0" y2="371.35" stroke="#37444a" stroke-width="1.5"/>
<rect x="896.25" y="330.15" width="5.5" height="36.40" fill="#ff0000" stroke="#000" stroke-width="1.5"/>
<line x1="910.4" y1="319.5" x2="910.4" y2="387.15000000000003" stroke="#37444a" stroke-width="1.5"/>
<rect x="907.65" y="358.25" width="5.5" height="12.40" fill="#ff0000" stroke="#000" stroke-width="1.5"/>
<line x1="920.2" y1="347.5" x2="920.2" y2="466.85" stroke="#37444a" stroke-width="1.5"/>
<rect x="917.45" y="352.65" width="5.5" height="83.00" fill="#ff0000" stroke="#000" stroke-width="1.5"/>
<line x1="929.9" y1="410.5" x2="929.9" y2="460.95000000000005" stroke="#37444a" stroke-width="1.5"/>
<rect x="927.15" y="425.65" width="5.5" height="10.00" fill="#ff0000" stroke="#000" stroke-width="1.5"/>
<line x1="941.1" y1="426.0" x2="941.1" y2="462.55" stroke="#37444a" stroke-width="1.5"/>
<rect x="938.35" y="445.25" width="5.5" height="3.80" fill="#ff0000" stroke="#000" stroke-width="1.5"/>
<line x1="950.9" y1="409.1" x2="950.9" y2="472.05" stroke="#37444a" stroke-width="1.5"/>
<rect x="948.15" y="414.25" width="5.5" height="49.30" fill="#32e832" stroke="#000" stroke-width="1.5"/>
<line x1="960.7" y1="400.9" x2="960.7" y2="427.55" stroke="#37444a" stroke-width="1.5"/>
<line x1="957.2" y1="413.6" x2="964.2" y2="413.6" stroke="#000" stroke-width="3"/>
<line x1="971.8" y1="387.0" x2="971.8" y2="430.25" stroke="#37444a" stroke-width="1.5"/>
<rect x="969.05" y="391.85" width="5.5" height="22.70" fill="#32e832" stroke="#000" stroke-width="1.5"/>
<line x1="981.6" y1="385.3" x2="981.6" y2="417.85" stroke="#37444a" stroke-width="1.5"/>
<rect x="978.85" y="390.75" width="5.5" height="13.80" fill="#ff0000" stroke="#000" stroke-width="1.5"/>
<line x1="993.0" y1="382.5" x2="993.0" y2="432.15000000000003" stroke="#37444a" stroke-width="1.5"/>
<rect x="990.25" y="397.55" width="5.5" height="31.00" fill="#ff0000" stroke="#000" stroke-width="1.5"/>
<line x1="1002.7" y1="360.1" x2="1002.7" y2="415.85" stroke="#37444a" stroke-width="1.5"/>
<rect x="999.95" y="369.85" width="5.5" height="44.70" fill="#32e832" stroke="#000" stroke-width="1.5"/>
<line x1="1012.5" y1="333.6" x2="1012.5" y2="387.15000000000003" stroke="#37444a" stroke-width="1.5"/>
<rect x="1009.75" y="347.05" width="5.5" height="22.30" fill="#32e832" stroke="#000" stroke-width="1.5"/>
<line x1="1023.7" y1="309.9" x2="1023.7" y2="348.85" stroke="#37444a" stroke-width="1.5"/>
<rect x="1020.95" y="321.75" width="5.5" height="12.80" fill="#32e832" stroke="#000" stroke-width="1.5"/>
<line x1="1033.5" y1="283.1" x2="1033.5" y2="323.95000000000005" stroke="#37444a" stroke-width="1.5"/>
<rect x="1030.75" y="310.85" width="5.5" height="2.30" fill="#32e832" stroke="#000" stroke-width="1.5"/>
<line x1="1043.4" y1="296.0" x2="1043.4" y2="324.95000000000005" stroke="#37444a" stroke-width="1.5"/>
<rect x="1040.65" y="309.35" width="5.5" height="2.40" fill="#32e832" stroke="#000" stroke-width="1.5"/>
<line x1="1054.6" y1="300.0" x2="1054.6" y2="348.85" stroke="#37444a" stroke-width="1.5"/>
<rect x="1051.85" y="304.85" width="5.5" height="30.80" fill="#ff0000" stroke="#000" stroke-width="1.5"/>
<line x1="1064.4" y1="287.1" x2="1064.4" y2="340.65000000000003" stroke="#37444a" stroke-width="1.5"/>
<rect x="1061.65" y="293.85" width="5.5" height="45.00" fill="#32e832" stroke="#000" stroke-width="1.5"/>
<line x1="1074.1" y1="272.1" x2="1074.1" y2="300.05" stroke="#37444a" stroke-width="1.5"/>
<rect x="1071.35" y="283.85" width="5.5" height="7.10" fill="#32e832" stroke="#000" stroke-width="1.5"/>
<line x1="1085.3" y1="277.3" x2="1085.3" y2="298.75" stroke="#37444a" stroke-width="1.5"/>
<rect x="1082.55" y="285.35" width="5.5" height="2.60" fill="#32e832" stroke="#000" stroke-width="1.5"/>
<line x1="1095.3" y1="277.3" x2="1095.3" y2="333.55" stroke="#37444a" stroke-width="1.5"/>
<rect x="1092.55" y="285.15" width="5.5" height="42.70" fill="#ff0000" stroke="#000" stroke-width="1.5"/>
<line x1="1105.0" y1="302.8" x2="1105.0" y2="331.55" stroke="#37444a" stroke-width="1.5"/>
<rect x="1102.25" y="307.65" width="5.5" height="23.80" fill="#32e832" stroke="#000" stroke-width="1.5"/>
<line x1="1116.4" y1="307.2" x2="1116.4" y2="355.95000000000005" stroke="#37444a" stroke-width="1.5"/>
<rect x="1113.65" y="316.15" width="5.5" height="36.60" fill="#ff0000" stroke="#000" stroke-width="1.5"/>
<line x1="1126.3" y1="346.5" x2="1126.3" y2="351.75" stroke="#37444a" stroke-width="1.5"/>
<rect x="1123.55" y="347.15" width="5.5" height="4.00" fill="#32e832" stroke="#000" stroke-width="1.5"/>
<line x1="1135.8" y1="342.2" x2="1135.8" y2="375.95000000000005" stroke="#37444a" stroke-width="1.5"/>
<rect x="1133.05" y="346.95" width="5.5" height="19.60" fill="#ff0000" stroke="#000" stroke-width="1.5"/>
<line x1="1147.1" y1="363.2" x2="1147.1" y2="378.05" stroke="#37444a" stroke-width="1.5"/>
<rect x="1144.35" y="365.25" width="5.5" height="3.80" fill="#ff0000" stroke="#000" stroke-width="1.5"/>
<line x1="18" y1="526.2" x2="1166.5" y2="526.2" stroke="#cbcbcb" stroke-width="2"/>
<line x1="18" y1="571.1" x2="1167.2" y2="571.1" stroke="#e2e6ed" stroke-width="1.9"/>
<line x1="1166.5" y1="110.5" x2="1166.5" y2="571.1" stroke="#e0e5ec" stroke-width="1.4"/>
<line x1="1166.5" y1="548" x2="1171" y2="548" stroke="#e0e5ec" stroke-width="1"/>
<g font-family="'Liberation Sans', 'Noto Sans CJK TC', sans-serif" font-size="16.6" fill="#444">
<text x="1174.3" y="151.8" letter-spacing="0.3">33.00</text>
<text x="1174.3" y="205.0" letter-spacing="0.3">32.00</text>
<text x="1174.3" y="258.4" letter-spacing="0.3">31.00</text>
<text x="1174.3" y="311.4" letter-spacing="0.3">30.00</text>
<text x="1174.3" y="364.8" letter-spacing="0.3">29.00</text>
<text x="1174.3" y="418.0" letter-spacing="0.3">28.00</text>
<text x="1174.3" y="470.2" letter-spacing="0.3">27.00</text>
<text x="1175" y="553.2">50.0k</text>
<text x="34.5" y="596" text-anchor="middle" font-weight="300">8</text>
<text x="105.7" y="596" text-anchor="middle" font-weight="300">17</text>
<text x="204" y="596" text-anchor="middle" font-weight="300">月 '24</text>
<text x="290.5" y="596" text-anchor="middle" font-weight="300">13</text>
<text x="363.5" y="596" text-anchor="middle" font-weight="300">22</text>
<text x="450.5" y="596" text-anchor="middle" font-weight="300">月 '24</text>
<text x="560.4" y="596" text-anchor="middle" font-weight="300">17</text>
<text x="656.6" y="596" text-anchor="middle" font-weight="300">月 '24</text>
<text x="765.6" y="596" text-anchor="middle" font-weight="300">15</text>
<text x="894.7" y="596" text-anchor="middle" font-weight="300">月 '24</text>
<text x="971.5" y="596" text-anchor="middle" font-weight="300">12</text>
<text x="1043.5" y="596" text-anchor="middle" font-weight="300">21</text>
<text x="1120.5" y="596" text-anchor="middle" font-weight="300">月 '24</text>
</g>
<rect x="1166" y="357" width="64.2" height="24.7" fill="#222"/>
<text x="1174.5" y="375.2" font-family="'Liberation Sans', sans-serif" font-size="16.6" fill="#fff">28.840</text>
</svg>

<div class="ranges"><div>1天</div><div>1週</div><div>1個月</div><div>3個月</div><div>6個月</div><div>1年</div><div>5年</div><div>最長</div></div>
</body>
</html>
